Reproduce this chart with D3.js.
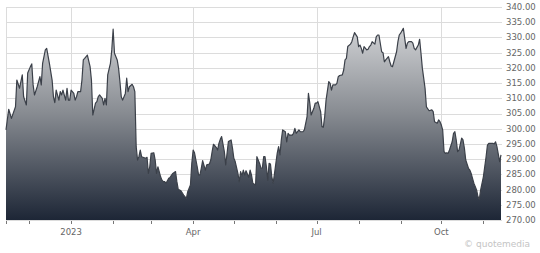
<!DOCTYPE html>
<html>
<head>
<meta charset="utf-8">
<script src="https://cdn.jsdelivr.net/npm/d3@7"></script>
<style>
  html, body { margin: 0; padding: 0; background: #fff; }
  svg { display: block; }
</style>
</head>
<body>
<script>
// daily closes, Nov 2022 - Nov 2023
const dates = [
  "2022-11-14","2022-11-16","2022-11-18","2022-11-21","2022-11-22","2022-11-24","2022-11-26","2022-11-27","2022-11-29","2022-11-30",
  "2022-12-02","2022-12-03","2022-12-04","2022-12-05","2022-12-07","2022-12-09","2022-12-10","2022-12-11","2022-12-13","2022-12-14",
  "2022-12-16","2022-12-18","2022-12-19","2022-12-20","2022-12-21","2022-12-23","2022-12-24","2022-12-25","2022-12-26","2022-12-28",
  "2022-12-29","2022-12-30","2022-12-31","2023-01-01","2023-01-03","2023-01-04","2023-01-05","2023-01-06","2023-01-08","2023-01-09",
  "2023-01-10","2023-01-11","2023-01-13","2023-01-15","2023-01-16","2023-01-17","2023-01-19","2023-01-20","2023-01-21","2023-01-22",
  "2023-01-24","2023-01-25","2023-01-26","2023-01-27","2023-01-28","2023-01-30","2023-01-31","2023-02-01","2023-02-02","2023-02-04",
  "2023-02-05","2023-02-06","2023-02-07","2023-02-08","2023-02-10","2023-02-11","2023-02-12","2023-02-13","2023-02-15","2023-02-16",
  "2023-02-17","2023-02-18","2023-02-19","2023-02-20","2023-02-21","2023-02-22","2023-02-25","2023-02-26","2023-02-27","2023-02-28",
  "2023-03-01","2023-03-03","2023-03-04","2023-03-05","2023-03-06","2023-03-08","2023-03-09","2023-03-10","2023-03-11","2023-03-12",
  "2023-03-14","2023-03-15","2023-03-17","2023-03-19","2023-03-20","2023-03-21","2023-03-23","2023-03-25","2023-03-27","2023-03-28",
  "2023-03-30","2023-03-31","2023-04-01","2023-04-02","2023-04-04","2023-04-05","2023-04-06","2023-04-07","2023-04-08","2023-04-10",
  "2023-04-11","2023-04-13","2023-04-14","2023-04-15","2023-04-16","2023-04-18","2023-04-19","2023-04-20","2023-04-21","2023-04-22",
  "2023-04-24","2023-04-25","2023-04-26","2023-04-27","2023-04-29","2023-04-30","2023-05-01","2023-05-02","2023-05-04","2023-05-05",
  "2023-05-06","2023-05-07","2023-05-08","2023-05-09","2023-05-10","2023-05-12","2023-05-13","2023-05-14","2023-05-15","2023-05-17",
  "2023-05-18","2023-05-20","2023-05-21","2023-05-22","2023-05-23","2023-05-24","2023-05-25","2023-05-26","2023-05-27","2023-05-28",
  "2023-05-29","2023-05-30","2023-05-31","2023-06-02","2023-06-03","2023-06-04","2023-06-05","2023-06-06","2023-06-08","2023-06-09",
  "2023-06-10","2023-06-11","2023-06-13","2023-06-14","2023-06-15","2023-06-16","2023-06-18","2023-06-19","2023-06-20","2023-06-21",
  "2023-06-22","2023-06-24","2023-06-25","2023-06-26","2023-06-27","2023-06-29","2023-06-30","2023-07-01","2023-07-02","2023-07-04",
  "2023-07-05","2023-07-06","2023-07-07","2023-07-08","2023-07-10","2023-07-11","2023-07-12","2023-07-13","2023-07-15","2023-07-16",
  "2023-07-17","2023-07-18","2023-07-20","2023-07-21","2023-07-22","2023-07-23","2023-07-24","2023-07-26","2023-07-27","2023-07-28",
  "2023-07-29","2023-07-31","2023-08-01","2023-08-02","2023-08-03","2023-08-04","2023-08-05","2023-08-07","2023-08-08","2023-08-09",
  "2023-08-10","2023-08-11","2023-08-13","2023-08-14","2023-08-15","2023-08-16","2023-08-18","2023-08-19","2023-08-20","2023-08-21",
  "2023-08-23","2023-08-24","2023-08-25","2023-08-26","2023-08-27","2023-08-29","2023-08-30","2023-08-31","2023-09-01","2023-09-03",
  "2023-09-04","2023-09-05","2023-09-06","2023-09-07","2023-09-09","2023-09-10","2023-09-11","2023-09-12","2023-09-14","2023-09-15",
  "2023-09-16","2023-09-17","2023-09-18","2023-09-19","2023-09-20","2023-09-22","2023-09-24","2023-09-25","2023-09-26","2023-09-28",
  "2023-09-29","2023-09-30","2023-10-01","2023-10-02","2023-10-03","2023-10-04","2023-10-05","2023-10-06","2023-10-07","2023-10-09",
  "2023-10-10","2023-10-11","2023-10-12","2023-10-13","2023-10-14","2023-10-16","2023-10-17","2023-10-18","2023-10-19","2023-10-21",
  "2023-10-22","2023-10-23","2023-10-24","2023-10-25","2023-10-27","2023-10-28","2023-10-29","2023-10-30","2023-11-01","2023-11-02",
  "2023-11-03","2023-11-04","2023-11-05","2023-11-07","2023-11-08","2023-11-09","2023-11-10","2023-11-11","2023-11-13","2023-11-14"
];

const closes = [
  299.6,306.4,303.4,307.2,316.0,313.3,317.7,310.5,307.8,318.3,
  320.4,321.3,314.4,311.1,313.8,317.1,314.4,321.5,325.9,326.4,
  321.5,316.0,310.5,308.6,312.7,309.4,312.2,311.1,312.7,309.4,
  313.3,309.4,309.4,312.7,311.6,309.4,310.5,312.2,312.2,316.0,
  322.6,323.1,324.2,320.4,316.0,304.5,308.4,308.9,310.5,311.1,
  310.0,307.8,310.0,307.8,317.7,321.5,325.9,332.7,324.8,322.6,
  319.9,315.5,310.5,309.4,311.6,316.6,312.2,313.8,314.6,313.8,
  312.2,294.1,289.7,290.8,293.0,290.8,290.3,290.6,285.3,287.5,
  291.9,292.1,289.7,285.3,287.5,284.2,283.1,282.6,282.6,282.1,
  283.7,284.0,285.3,285.9,282.6,280.1,279.6,278.2,277.1,279.3,
  281.5,288.6,293.0,292.1,287.5,284.8,284.8,287.0,289.5,286.4,
  288.1,288.4,289.7,292.5,294.9,293.9,293.0,295.2,296.5,297.4,
  292.5,288.1,291.9,295.8,296.3,293.6,290.3,289.2,285.3,282.6,
  285.9,284.5,286.4,284.8,286.2,284.0,286.4,284.8,282.1,281.5,
  290.8,288.6,287.0,287.0,290.8,290.8,287.5,283.1,288.6,288.4,
  284.2,282.1,285.3,292.0,294.1,291.4,296.3,299.6,299.0,295.7,
  298.5,297.9,297.9,298.5,300.1,298.5,299.6,299.0,299.0,299.0,
  299.6,304.0,311.6,308.4,304.5,306.7,308.4,308.4,308.9,305.6,
  300.7,300.5,304.0,309.4,315.5,314.9,312.7,314.4,314.4,314.9,
  317.1,317.5,317.7,319.3,322.6,323.1,327.0,327.8,328.6,330.2,
  331.6,330.2,327.0,327.5,326.4,324.8,327.0,325.9,326.1,327.0,
  327.5,328.6,327.8,330.2,330.8,330.8,325.3,325.0,322.0,322.6,
  323.7,322.0,320.6,320.4,322.0,325.3,328.6,330.8,331.4,333.0,
  329.7,326.4,328.1,328.6,328.6,328.1,326.4,325.9,327.5,329.4,
  324.8,319.9,316.6,313.3,307.2,305.9,306.2,305.6,302.3,301.8,
  302.9,302.3,301.2,299.6,292.5,291.9,292.1,291.9,293.0,295.7,
  298.5,299.0,296.3,292.5,293.0,296.9,296.3,293.6,289.7,287.0,
  286.4,285.3,283.7,282.1,279.9,277.7,276.8,279.9,284.2,287.5,
  290.8,294.6,295.2,295.2,295.2,295.0,295.7,294.1,289.2,291.4
];

const yTicks = [270, 275, 280, 285, 290, 295, 300, 305, 310, 315, 320, 325, 330, 335, 340];
const xLabels = [
  { date: "2023-01-01", label: "2023" },
  { date: "2023-04-01", label: "Apr" },
  { date: "2023-07-01", label: "Jul" },
  { date: "2023-10-01", label: "Oct" }
];
const xStart = "2022-11-14";
const xEnd = "2023-11-14";

const parse = d3.timeParse("%Y-%m-%d");
const data = dates.map((d, i) => ({ date: parse(d), close: closes[i] }));

const W = 540, H = 253;
const plotLeft = 6, plotRight = 501, plotTop = 7, plotBottom = 220;

const svg = d3.select("body").append("svg")
  .attr("width", W)
  .attr("height", H)
  .style("font-family", "'DejaVu Sans', Verdana, sans-serif");

const x = d3.scaleTime().domain([parse(xStart), parse(xEnd)]).range([plotLeft, plotRight]);
const y = d3.scaleLinear().domain([270, 340]).range([plotBottom, plotTop]);

// gradient for the area fill
const grad = svg.append("defs").append("linearGradient")
  .attr("id", "fillGrad")
  .attr("gradientUnits", "userSpaceOnUse")
  .attr("x1", 0).attr("x2", 0)
  .attr("y1", plotTop).attr("y2", plotBottom);
grad.append("stop").attr("offset", "0%").attr("stop-color", "#e2e3e5");
grad.append("stop").attr("offset", "50%").attr("stop-color", "#878b91");
grad.append("stop").attr("offset", "100%").attr("stop-color", "#1d2636");

// horizontal grid
svg.append("g")
  .selectAll("line")
  .data(yTicks)
  .join("line")
  .attr("x1", plotLeft).attr("x2", plotRight + 1)
  .attr("y1", d => Math.round(y(d)) + 0.5)
  .attr("y2", d => Math.round(y(d)) + 0.5)
  .attr("stroke", "#dcdcdc")
  .attr("stroke-width", 1);

// vertical grid at labelled months + left edge
svg.append("g")
  .selectAll("line")
  .data([xStart].concat(xLabels.map(d => d.date)))
  .join("line")
  .attr("x1", d => Math.round(x(parse(d))) + 0.5)
  .attr("x2", d => Math.round(x(parse(d))) + 0.5)
  .attr("y1", plotTop).attr("y2", plotBottom)
  .attr("stroke", "#dcdcdc")
  .attr("stroke-width", 1);

// area + line
const area = d3.area()
  .x(d => x(d.date))
  .y0(y(270))
  .y1(d => y(d.close));

const line = d3.line()
  .x(d => x(d.date))
  .y(d => y(d.close));

svg.append("path")
  .datum(data)
  .attr("d", area)
  .attr("fill", "url(#fillGrad)");

svg.append("path")
  .datum(data)
  .attr("d", line)
  .attr("fill", "none")
  .attr("stroke", "#3b4049")
  .attr("stroke-width", 1.2)
  .attr("stroke-linejoin", "round");

// x axis ticks (month starts + chart start)
const monthTicks = [parse(xStart)].concat(d3.timeMonth.range(parse("2022-12-01"), parse(xEnd)));
svg.append("g")
  .selectAll("line")
  .data(monthTicks)
  .join("line")
  .attr("x1", d => Math.round(x(d)) + 0.5)
  .attr("x2", d => Math.round(x(d)) + 0.5)
  .attr("y1", plotBottom + 1).attr("y2", plotBottom + 4)
  .attr("stroke", "#777")
  .attr("stroke-width", 1);

svg.append("g")
  .selectAll("text")
  .data(xLabels)
  .join("text")
  .attr("x", d => x(parse(d.date)))
  .attr("y", plotBottom + 15)
  .attr("text-anchor", "middle")
  .attr("font-size", "8.5px")
  .attr("fill", "#666")
  .text(d => d.label);

// y labels on the right
svg.append("g")
  .selectAll("text")
  .data(yTicks)
  .join("text")
  .attr("x", plotRight + 5)
  .attr("y", d => y(d))
  .attr("dy", "0.35em")
  .attr("font-size", "8.5px")
  .attr("fill", "#666")
  .text(d => d3.format(".2f")(d));

// watermark
svg.append("text")
  .attr("x", 530)
  .attr("y", 247)
  .attr("text-anchor", "end")
  .attr("font-size", "9px")
  .attr("fill", "#c4c4c4")
  .text("\u00a9 quotemedia");
</script>
</body>
</html>
